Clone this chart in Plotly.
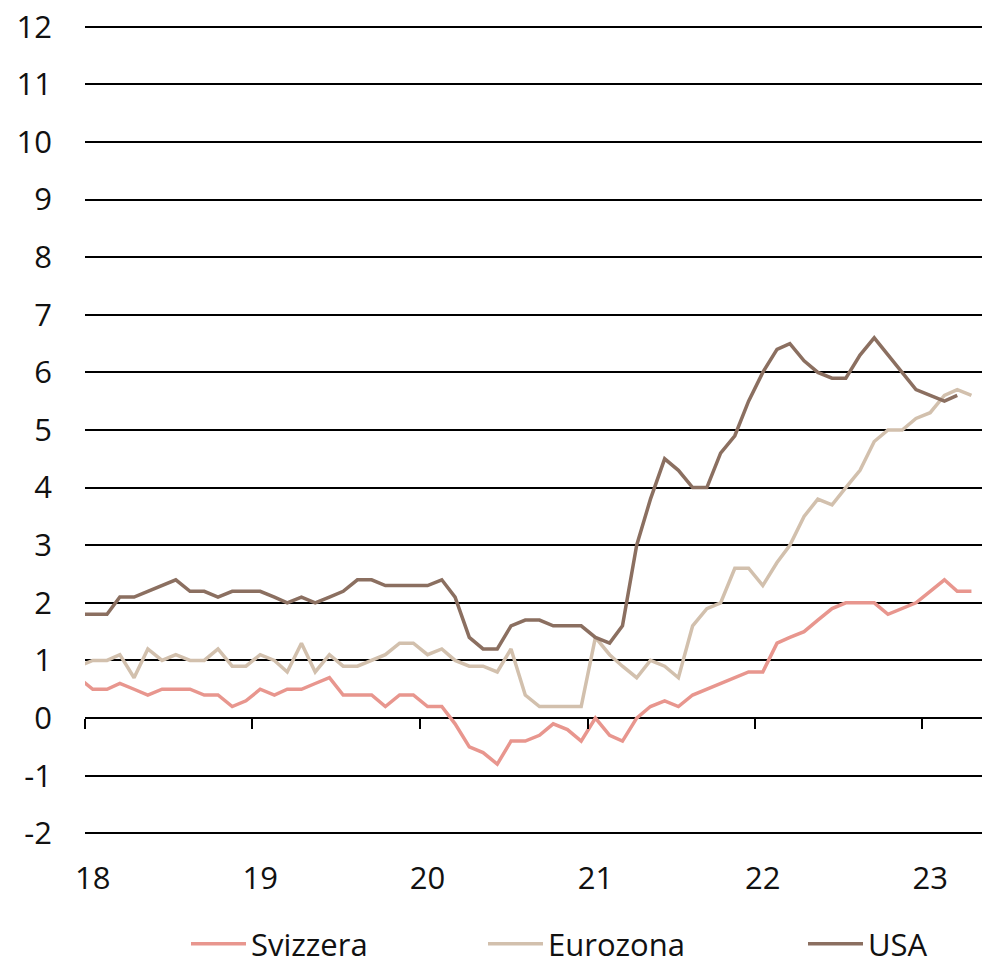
import pandas as pd
import plotly.graph_objects as go

# Monthly core inflation (% y/y), Dec 2017 .. Apr 2023
svizzera = [0.7,
            0.5, 0.5, 0.6, 0.5, 0.4, 0.5, 0.5, 0.5, 0.4, 0.4, 0.2, 0.3,
            0.5, 0.4, 0.5, 0.5, 0.6, 0.7, 0.4, 0.4, 0.4, 0.2, 0.4, 0.4,
            0.2, 0.2, -0.1, -0.5, -0.6, -0.8, -0.4, -0.4, -0.3, -0.1, -0.2, -0.4,
            0.0, -0.3, -0.4, 0.0, 0.2, 0.3, 0.2, 0.4, 0.5, 0.6, 0.7, 0.8,
            0.8, 1.3, 1.4, 1.5, 1.7, 1.9, 2.0, 2.0, 2.0, 1.8, 1.9, 2.0,
            2.2, 2.4, 2.2, 2.2]
eurozona = [0.9,
            1.0, 1.0, 1.1, 0.7, 1.2, 1.0, 1.1, 1.0, 1.0, 1.2, 0.9, 0.9,
            1.1, 1.0, 0.8, 1.3, 0.8, 1.1, 0.9, 0.9, 1.0, 1.1, 1.3, 1.3,
            1.1, 1.2, 1.0, 0.9, 0.9, 0.8, 1.2, 0.4, 0.2, 0.2, 0.2, 0.2,
            1.4, 1.1, 0.9, 0.7, 1.0, 0.9, 0.7, 1.6, 1.9, 2.0, 2.6, 2.6,
            2.3, 2.7, 3.0, 3.5, 3.8, 3.7, 4.0, 4.3, 4.8, 5.0, 5.0, 5.2,
            5.3, 5.6, 5.7, 5.6]
usa = [1.8,
       1.8, 1.8, 2.1, 2.1, 2.2, 2.3, 2.4, 2.2, 2.2, 2.1, 2.2, 2.2,
       2.2, 2.1, 2.0, 2.1, 2.0, 2.1, 2.2, 2.4, 2.4, 2.3, 2.3, 2.3,
       2.3, 2.4, 2.1, 1.4, 1.2, 1.2, 1.6, 1.7, 1.7, 1.6, 1.6, 1.6,
       1.4, 1.3, 1.6, 3.0, 3.8, 4.5, 4.3, 4.0, 4.0, 4.6, 4.9, 5.5,
       6.0, 6.4, 6.5, 6.2, 6.0, 5.9, 5.9, 6.3, 6.6, 6.3, 6.0, 5.7,
       5.6, 5.5, 5.6, None]

series_names = ["Svizzera", "Eurozona", "USA"]
series_colors = ["#E8968E", "#D2C0AD", "#8B6F60"]
year_labels = ["18", "19", "20", "21", "22", "23"]
y_ticks = list(range(-2, 13))
y_labels = [str(v) for v in y_ticks]  # hyphen-minus as in the original

months = pd.date_range("2017-12-01", periods=len(svizzera), freq="MS") + pd.Timedelta(days=17)
label_dates = [pd.Timestamp(f"20{y}-01-18") for y in year_labels]
tick_dates = [pd.Timestamp(f"20{y}-01-01") for y in year_labels]

FONT = "Open Sans"
fig = go.Figure()
legend_ids = ["legend", "legend2", "legend3"]
for name, vals, col, lg in zip(series_names, [svizzera, eurozona, usa], series_colors, legend_ids):
    fig.add_trace(go.Scatter(x=months, y=vals, mode="lines", name=name,
                             line=dict(color=col, width=3.5), legend=lg,
                             connectgaps=False))
# empty trace to hold tick-mark axis at y=0
fig.add_trace(go.Scatter(x=[], y=[], xaxis="x2", yaxis="y", showlegend=False,
                         hoverinfo="skip"))

ymin, ymax = -2.03, 12.03
xr = ["2018-01-01", "2023-05-11"]
fig.update_layout(
    width=984, height=971,
    margin=dict(l=85, r=2, t=25, b=136, autoexpand=False),
    paper_bgcolor="white", plot_bgcolor="white",
    font=dict(family=FONT, size=31, color="#111111"),
    xaxis=dict(type="date", range=xr, tickmode="array", tickvals=label_dates,
               ticktext=year_labels, showgrid=False, zeroline=False,
               showline=False, ticks="", ticklabelstandoff=22,
               tickfont=dict(size=31)),
    xaxis2=dict(type="date", range=xr, overlaying="x", anchor="free",
                position=(0 - ymin) / (ymax - ymin), side="bottom",
                tickmode="array", tickvals=tick_dates, ticks="outside",
                ticklen=10, tickwidth=2, tickcolor="#000000",
                showticklabels=False, showgrid=False, zeroline=False,
                showline=False),
    yaxis=dict(range=[ymin, ymax], tickmode="array", tickvals=y_ticks,
               ticktext=y_labels,
               showgrid=True, gridcolor="#000000", gridwidth=2,
               zeroline=True, zerolinecolor="#000000", zerolinewidth=2,
               showline=False, ticks="", ticklabelstandoff=32,
               tickfont=dict(size=31)),
    showlegend=True,
)
leg_common = dict(orientation="h", yref="container", yanchor="bottom", y=0.0,
                  xanchor="left", itemwidth=55,
                  font=dict(size=31, family=FONT, color="#111111"),
                  bgcolor="rgba(0,0,0,0)")
fig.update_layout(
    legend=dict(x=(186 - 85) / 897, **leg_common),
    legend2=dict(x=(483 - 85) / 897, **leg_common),
    legend3=dict(x=(803 - 85) / 897, **leg_common),
)

fig.write_html("out.html", config={"displayModeBar": False},
               post_script="document.body.style.margin='0';")
